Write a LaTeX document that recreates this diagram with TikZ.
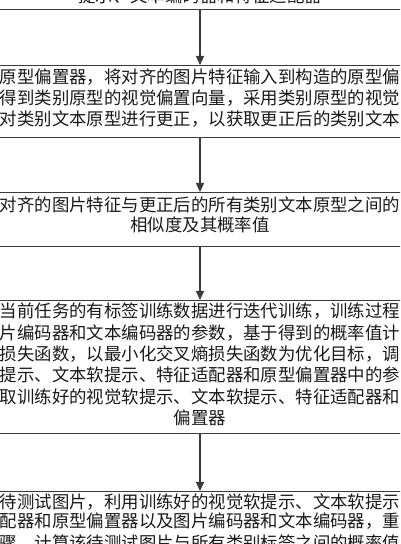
\documentclass[tikz,border=0pt]{standalone}
\usepackage{fontspec}
\newfontfamily\cjk{Noto Sans CJK SC}
\usetikzlibrary{arrows.meta}
\definecolor{linecol}{HTML}{3A3A3A}
\definecolor{textcol}{HTML}{1A1A1A}
\tikzset{
  box/.style={draw=linecol, line width=1.3bp, rectangle, inner sep=0pt, minimum width=460bp},
  txt/.style={inner sep=0pt, text=textcol, font=\cjk\fontsize{17.4bp}{21bp}\selectfont, text height=0.88em, text depth=0.12em, anchor=center},
  arr/.style={draw=linecol, line width=1.3bp, -{Triangle[length=9bp,width=8bp]}}
}
\begin{document}
\begin{tikzpicture}[x=1bp,y=1bp]
\useasboundingbox (0,0) rectangle (400,544);
\clip (0,0) rectangle (400,544);
\fill[white] (0,0) rectangle (400,544);
% boxes
\node[box, minimum height=40bp, anchor=south] (b1) at (200,534) {};
\node[box, minimum height=72bp, anchor=north] (b2) at (200,479) {};
\node[box, minimum height=54bp, anchor=north] (b3) at (200,352) {};
\node[box, minimum height=133bp, anchor=north] (b4) at (200,244) {};
\node[box, minimum height=90bp, anchor=north] (b5) at (200,53) {};
% texts
\node[txt] (t1) at (200,545.5) {提示、文本编码器和特征适配器};
\node[txt] (t2a) at (200,464) {原型偏置器，将对齐的图片特征输入到构造的原型偏};
\node[txt] (t2b) at (200,443) {得到类别原型的视觉偏置向量，采用类别原型的视觉};
\node[txt] (t2c) at (200,422) {对类别文本原型进行更正，以获取更正后的类别文本};
\node[txt] (t3a) at (200,336) {对齐的图片特征与更正后的所有类别文本原型之间的};
\node[txt] (t3b) at (200,316) {相似度及其概率值};
\node[txt] (t4a) at (200,230) {当前任务的有标签训练数据进行迭代训练，训练过程};
\node[txt] (t4b) at (200,208.6) {片编码器和文本编码器的参数，基于得到的概率值计};
\node[txt] (t4c) at (200,187.2) {损失函数，以最小化交叉熵损失函数为优化目标，调};
\node[txt] (t4d) at (200,165.8) {提示、文本软提示、特征适配器和原型偏置器中的参};
\node[txt] (t4e) at (200,144.4) {取训练好的视觉软提示、文本软提示、特征适配器和};
\node[txt] (t4f) at (200,123) {偏置器};
\node[txt] (t5a) at (200,39) {待测试图片，利用训练好的视觉软提示、文本软提示};
\node[txt] (t5b) at (200,20) {配器和原型偏置器以及图片编码器和文本编码器，重};
\node[txt] (t5c) at (200,-1.5) {骤，计算该待测试图片与所有类别标签之间的概率值};
% arrows
\draw[arr] (b1.south) -- (b2.north);
\draw[arr] (b2.south) -- (b3.north);
\draw[arr] (b3.south) -- (b4.north);
\draw[arr] (b4.south) -- (b5.north);
\end{tikzpicture}
\end{document}
